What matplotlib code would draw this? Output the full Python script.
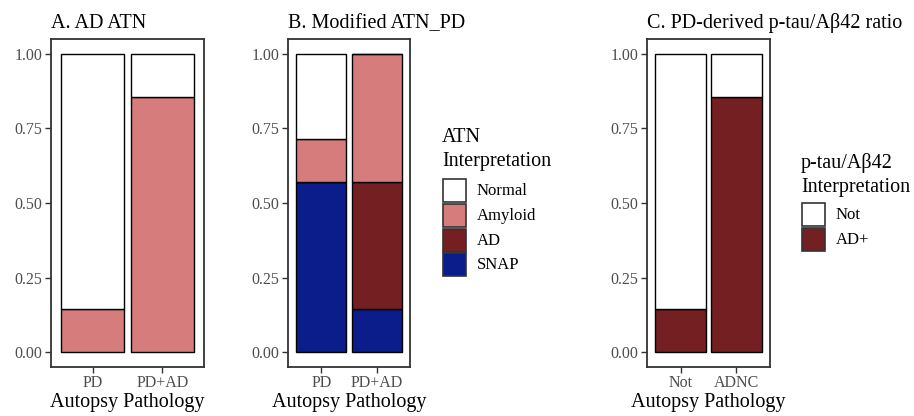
import numpy as np
import matplotlib.pyplot as plt
from matplotlib.patches import Rectangle

plt.rcParams['font.family'] = ['Liberation Serif', 'DejaVu Serif']

# data (proportions per group, stacked bottom -> top)
cats_a = ['PD', 'PD+AD']
a_levels = ['Amyloid', 'Normal']
a_vals = {'Amyloid': [1/7, 6/7], 'Normal': [6/7, 1/7]}

cats_b = ['PD', 'PD+AD']
b_levels = ['SNAP', 'AD', 'Amyloid', 'Normal']
b_vals = {'SNAP': [4/7, 1/7], 'AD': [0, 3/7], 'Amyloid': [1/7, 3/7], 'Normal': [2/7, 0]}

cats_c = ['Not', 'ADNC']
c_levels = ['AD+', 'Not']
c_vals = {'AD+': [1/7, 6/7], 'Not': [6/7, 1/7]}

colors = {'Normal': 'white', 'Amyloid': '#D77C7C', 'AD': '#741F22',
          'SNAP': '#0B1D8A', 'Not': 'white', 'AD+': '#741F22'}

W, H = 914, 416
fig = plt.figure(figsize=(W/100, H/100), dpi=100)

def px_axes(x0, x1, y0, y1):
    return fig.add_axes([x0/W, 1 - y1/H, (x1-x0)/W, (y1-y0)/H])

def panel(ax, cats, levels, vals, title):
    x = np.arange(1, len(cats)+1)
    bottom = np.zeros(len(cats))
    for lev in levels:
        v = np.array(vals[lev])
        ax.bar(x, v, bottom=bottom, width=0.9, color=colors[lev],
               edgecolor='black', linewidth=1.0)
        bottom += v
    ax.set_xlim(0.4, len(cats)+0.6)
    ax.set_ylim(-0.05, 1.05)
    ax.set_xticks(x)
    ax.set_xticklabels(cats)
    ax.set_yticks([0, 0.25, 0.5, 0.75, 1.0])
    ax.set_yticklabels(['0.00', '0.25', '0.50', '0.75', '1.00'])
    ax.tick_params(colors='#333333', labelcolor='#4D4D4D', labelsize=11.5,
                   length=4, width=1.0, pad=2)
    for s in ax.spines.values():
        s.set_color('#333333')
        s.set_linewidth(1.3)
    ax.set_xlabel('Autopsy Pathology', fontsize=14.5, labelpad=1)
    ax.set_title(title, fontsize=14.5, loc='left', pad=8)

ax_a = px_axes(51, 204, 39, 367)
panel(ax_a, cats_a, a_levels, a_vals, 'A. AD ATN')

ax_b = px_axes(288, 410, 39, 367)
panel(ax_b, cats_b, b_levels, b_vals, 'B. Modified ATN_PD')

ax_c = px_axes(647, 770, 39, 367)
panel(ax_c, cats_c, c_levels, c_vals, 'C. PD-derived p-tau/A\u03b242 ratio')

def legend(x0, ytitle, ykey, title_lines, labels):
    for i, t in enumerate(title_lines):
        fig.text(x0/W, 1 - (ytitle + i*24)/H, t, fontsize=14.5, va='center', ha='left')
    ky = ykey
    for lab in labels:
        fig.patches.append(Rectangle(((x0+1)/W, 1 - (ky+23)/H), 23/W, 23/H,
                                     transform=fig.transFigure, facecolor=colors[lab],
                                     edgecolor='#333333', linewidth=1.2))
        fig.text((x0+35)/W, 1 - (ky+12)/H, lab, fontsize=12, va='center', ha='left')
        ky += 24.8

legend(442, 138, 179, ['ATN', 'Interpretation'], ['Normal', 'Amyloid', 'AD', 'SNAP'])
legend(801, 163, 203, ['p-tau/A\u03b242', 'Interpretation'], ['Not', 'AD+'])

fig.savefig('out.png', dpi=100, facecolor='white')
